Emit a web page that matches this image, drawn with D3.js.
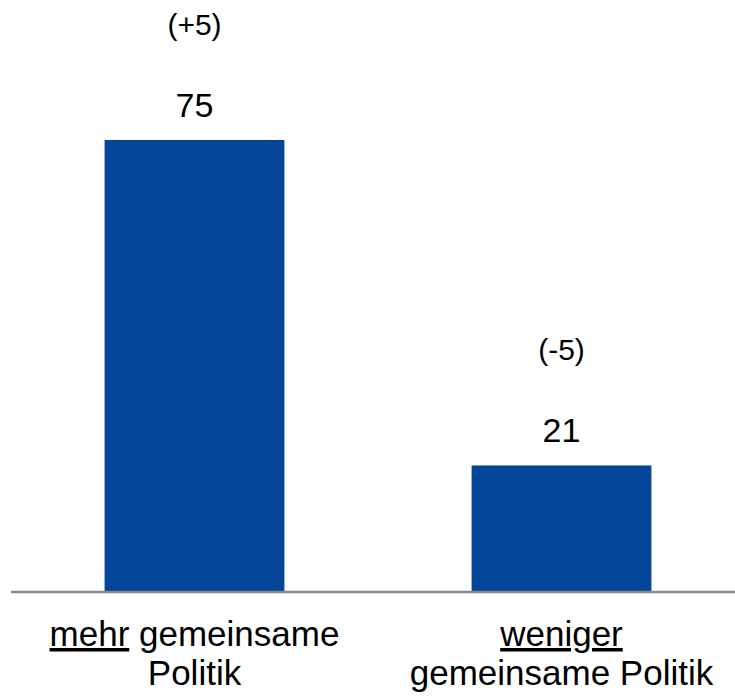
<!DOCTYPE html>
<html>
<head>
<meta charset="utf-8">
<script src="https://cdn.jsdelivr.net/npm/d3@7"></script>
<style>
  body { margin: 0; background: #fff; }
  text { font-family: "Liberation Sans", Arial, sans-serif; fill: #000; }
</style>
</head>
<body>
<script>
// chart values
const categories = ['mehr', 'weniger'];
const values = [75, 21];
const changes = ['(+5)', '(-5)'];
// label lines: [underlined part, rest] per line
const labelLines = [
  [['mehr', ' gemeinsame'], ['', 'Politik']],
  [['weniger', ''], ['', 'gemeinsame Politik']]
];

const width = 735, height = 696;
const baseY = 592, topY = 140;

const svg = d3.select('body').append('svg')
  .attr('width', width)
  .attr('height', height);

const xScale = d3.scaleBand()
  .domain(categories)
  .range([11, 745])
  .paddingInner(0.51)
  .paddingOuter(0.255);

const yScale = d3.scaleLinear()
  .domain([0, 75])
  .range([baseY, topY]);

// bars
svg.append('g')
  .selectAll('rect')
  .data(values)
  .join('rect')
  .attr('x', (d, i) => xScale(categories[i]))
  .attr('y', d => yScale(d))
  .attr('width', xScale.bandwidth())
  .attr('height', d => yScale(0) - yScale(d))
  .attr('fill', '#03469a');

// baseline
svg.append('line')
  .attr('x1', 11)
  .attr('x2', width)
  .attr('y1', baseY)
  .attr('y2', baseY)
  .attr('stroke', '#888')
  .attr('stroke-width', 2.5);

// value labels
svg.append('g')
  .selectAll('text')
  .data(values)
  .join('text')
  .attr('x', (d, i) => xScale(categories[i]) + xScale.bandwidth() / 2)
  .attr('y', d => yScale(d) - 23)
  .attr('text-anchor', 'middle')
  .attr('font-size', 34)
  .text(d => d);

// change labels
svg.append('g')
  .selectAll('text')
  .data(values)
  .join('text')
  .attr('x', (d, i) => xScale(categories[i]) + xScale.bandwidth() / 2)
  .attr('y', d => yScale(d) - 105)
  .attr('text-anchor', 'middle')
  .attr('font-size', 30)
  .text((d, i) => changes[i]);

// category labels
categories.forEach((c, i) => {
  const cx = xScale(c) + xScale.bandwidth() / 2;
  labelLines[i].forEach((line, j) => {
    const t = svg.append('text')
      .attr('x', cx)
      .attr('y', 646 + j * 39)
      .attr('text-anchor', 'middle')
      .attr('font-size', 35);
    if (line[0]) {
      t.append('tspan')
        .style('text-decoration', 'underline')
        .text(line[0]);
    }
    t.append('tspan')
      .attr('xml:space', 'preserve')
      .style('white-space', 'pre')
      .text(line[1]);
  });
});
</script>
</body>
</html>
